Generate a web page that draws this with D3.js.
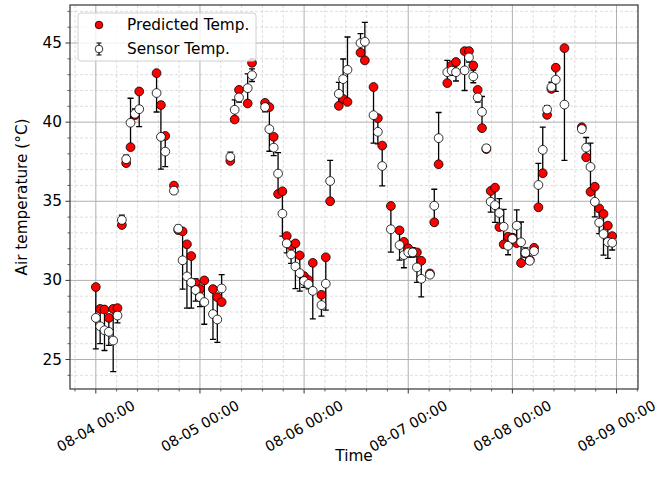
<!DOCTYPE html>
<html>
<head>
<meta charset="utf-8">
<script src="https://cdn.jsdelivr.net/npm/d3@7"></script>
<style>
  body { margin: 0; background: #fff; }
  text { font-family: "DejaVu Sans", sans-serif; }
</style>
</head>
<body>
<div id="chart"></div>
<script>
// hours after 08-04 00:00
var hours = [0,1,2,3,4,5,6,7,8,9,10,14,15,16,18,19,20,21,22,23,24,25,27,28,29,
    31,32,33,35,36,39,40,41,42,43,44,45,46,47,48,49,50,52,53,54,56,57,58,61,62,
    64,65,66,68,70,71,72,73,74,75,77,78,79,81,82,83,85,86,87,88,89,90,91,92,93,
    94,95,96,97,98,99,100,101,102,103,104,105,106,108,112,113,114,115,116,117,118,119];

var predicted = [29.58,28.2,28.16,27.63,28.2,28.25,33.5,37.41,38.42,40.45,41.94,43.1,41.08,39.13,35.99,33.18,33.1,32.28,31.54,29.83,29.45,30.0,29.45,28.94,28.63,
    37.55,40.17,42.04,41.18,43.75,41.22,40.95,39.07,35.46,35.63,32.8,32.19,32.34,31.58,30.27,30.02,31.11,29.09,31.46,35.0,41.03,41.47,41.28,44.39,43.9,
    42.22,40.25,38.52,34.7,33.16,32.44,32.03,31.75,31.77,31.24,30.44,33.67,37.34,42.47,43.58,43.8,44.49,44.49,43.58,42.04,39.62,38.3,35.65,35.86,33.37,
    32.28,32.76,32.7,32.36,31.1,31.7,31.29,32.06,34.62,36.77,40.46,42.1,43.44,44.68,39.68,37.78,35.6,35.92,34.55,34.2,33.46,32.8];

var sensor = [27.63,27.1,26.85,26.75,26.2,27.78,33.82,37.66,39.96,40.53,40.82,41.84,39.07,38.14,35.67,33.27,31.27,30.25,29.87,29.39,28.94,28.63,27.87,27.53,29.49,
    37.8,40.78,41.56,42.15,42.97,40.95,39.56,38.39,36.75,34.22,32.34,31.64,30.88,30.46,29.96,29.77,29.34,28.44,29.79,36.28,41.79,42.72,43.31,45.0,45.08,
    40.44,39.39,37.23,33.23,32.23,31.6,31.77,31.77,30.82,30.1,30.36,34.72,38.99,43.16,43.25,43.16,43.27,44.09,42.89,41.56,40.65,38.35,34.97,34.75,34.26,
    33.39,32.19,32.63,33.46,32.41,31.75,31.24,31.85,36.03,38.25,40.8,42.22,42.68,41.11,39.56,38.39,37.17,34.97,33.65,32.93,32.42,32.38];

var sensorErr = [1.96,1.1,1.28,0.86,1.96,0.47,0.3,0.25,1.55,0.3,1.1,1.2,2.04,0.95,0.2,0.2,1.82,2.0,1.62,0.7,0.6,1.4,1.6,1.45,0.87,
    0.3,0.63,0.3,0.9,0.4,0.3,1.4,0.5,1.32,1.42,0.6,0.57,1.4,1.14,0.4,0.3,1.77,0.7,1.67,1.3,0.72,1.27,2.07,0.6,1.22,
    1.77,0.76,1.26,1.44,0.95,0.8,0.3,0.3,0.95,1.14,0.1,1.04,1.62,0.74,0.3,0.56,1.27,0.3,0.4,0.3,0.97,0.2,0.65,1.08,0.91,
    1.1,0.57,0.3,1.0,1.28,0.3,0.2,0.2,1.37,1.43,0.25,0.3,0.74,3.52,0.2,0.64,1.5,0.95,0.7,1.33,1.03,0.46];

var yTicks = [25, 30, 35, 40, 45];
var legendLabels = ["Predicted Temp.", "Sensor Temp."];

function init() {
    var W = 659, H = 496;
    var margin = {top: 5, right: 21, bottom: 107, left: 70};
    var w = W - margin.left - margin.right;
    var h = H - margin.top - margin.bottom;
    var fs = "15.3px";      // labels, legend, y ticks
    var fsX = "14.3px";     // rotated date ticks

    var start = new Date(2020, 7, 4, 0, 0);
    var data = hours.map(function(hr, i) {
        return {t: d3.timeHour.offset(start, hr), p: predicted[i], s: sensor[i], e: sensorErr[i]};
    });

    // 5% padding like matplotlib
    var hMin = d3.min(hours), hMax = d3.max(hours);
    var padH = (hMax - hMin) * 0.05;
    var x = d3.scaleTime()
        .domain([new Date(+start + (hMin - padH) * 3600e3), new Date(+start + (hMax + padH) * 3600e3)])
        .range([0, w]);

    var lo = d3.min(data, function(d){ return Math.min(d.p, d.s - d.e); });
    var hi = d3.max(data, function(d){ return Math.max(d.p, d.s + d.e); });
    var padY = (hi - lo) * 0.05;
    var y = d3.scaleLinear().domain([lo - padY, hi + padY]).range([h, 0]);

    var svg = d3.select("#chart").append("svg")
        .attr("width", W).attr("height", H);
    var g = svg.append("g").attr("transform", "translate(" + margin.left + "," + margin.top + ")");

    var days = d3.timeDay.range(start, d3.timeDay.offset(start, 6));
    var minorX = [];
    d3.timeDay.range(d3.timeDay.offset(start, -1), d3.timeDay.offset(start, 6)).forEach(function(d) {
        for (var k = 1; k < 5; k++) minorX.push(new Date(+d + k * 24 * 3600e3 / 5));
    });
    minorX = minorX.filter(function(d){ return d >= x.domain()[0] && d <= x.domain()[1]; });
    var minorY = d3.range(24, 48).filter(function(v){ return v % 5 != 0 && v >= y.domain()[0] && v <= y.domain()[1]; });

    // grid
    var grid = g.append("g");
    grid.selectAll(".mx").data(minorX).enter().append("line")
        .attr("x1", function(d){ return x(d); }).attr("x2", function(d){ return x(d); })
        .attr("y1", 0).attr("y2", h)
        .style("stroke", "#d6d6d6").style("stroke-dasharray", "3,2").style("stroke-width", 0.8);
    grid.selectAll(".my").data(minorY).enter().append("line")
        .attr("y1", function(d){ return y(d); }).attr("y2", function(d){ return y(d); })
        .attr("x1", 0).attr("x2", w)
        .style("stroke", "#d6d6d6").style("stroke-dasharray", "3,2").style("stroke-width", 0.8);
    grid.selectAll(".Mx").data(days).enter().append("line")
        .attr("x1", function(d){ return x(d); }).attr("x2", function(d){ return x(d); })
        .attr("y1", 0).attr("y2", h)
        .style("stroke", "#b0b0b0").style("stroke-width", 1);
    grid.selectAll(".My").data(yTicks).enter().append("line")
        .attr("y1", function(d){ return y(d); }).attr("y2", function(d){ return y(d); })
        .attr("x1", 0).attr("x2", w)
        .style("stroke", "#b0b0b0").style("stroke-width", 1);

    // error bars
    var bars = g.append("g");
    bars.selectAll(".eb").data(data).enter().append("path")
        .attr("d", function(d) {
            var cx = x(d.t), t = y(d.s + d.e), b = y(d.s - d.e);
            return "M" + cx + "," + t + "V" + b +
                   "M" + (cx - 3) + "," + t + "H" + (cx + 3) +
                   "M" + (cx - 3) + "," + b + "H" + (cx + 3);
        })
        .style("stroke", "#000").style("stroke-width", 1.3).style("fill", "none");

    // predicted
    g.append("g").selectAll("circle").data(data).enter().append("circle")
        .attr("cx", function(d){ return x(d.t); })
        .attr("cy", function(d){ return y(d.p); })
        .attr("r", 4.4)
        .style("fill", "#ff0000").style("stroke", "#000").style("stroke-width", 0.8);

    // sensor
    g.append("g").selectAll("circle").data(data).enter().append("circle")
        .attr("cx", function(d){ return x(d.t); })
        .attr("cy", function(d){ return y(d.s); })
        .attr("r", 4.4)
        .style("fill", "#fff").style("stroke", "#000").style("stroke-width", 0.8);

    // axes
    var fmt = d3.timeFormat("%m-%d %H:%M");
    var xAxis = g.append("g").attr("transform", "translate(0," + h + ")");
    xAxis.selectAll(".mt").data(minorX).enter().append("line")
        .attr("x1", function(d){ return x(d); }).attr("x2", function(d){ return x(d); })
        .attr("y1", 0).attr("y2", 2.5).style("stroke", "#333").style("stroke-width", 0.8);
    xAxis.selectAll(".Mt").data(days).enter().append("line")
        .attr("x1", function(d){ return x(d); }).attr("x2", function(d){ return x(d); })
        .attr("y1", 0).attr("y2", 4.5).style("stroke", "#333").style("stroke-width", 1);
    xAxis.selectAll("text").data(days).enter().append("text")
        .attr("transform", function(d){ return "translate(" + x(d) + ",37) rotate(-30)"; })
        .attr("text-anchor", "middle").attr("dominant-baseline", "central")
        .style("font-size", fsX).style("fill", "#000")
        .text(function(d){ return fmt(d); });

    var yAxis = g.append("g");
    yAxis.selectAll(".mt").data(minorY).enter().append("line")
        .attr("y1", function(d){ return y(d); }).attr("y2", function(d){ return y(d); })
        .attr("x1", 0).attr("x2", -2.5).style("stroke", "#333").style("stroke-width", 0.8);
    yAxis.selectAll(".Mt").data(yTicks).enter().append("line")
        .attr("y1", function(d){ return y(d); }).attr("y2", function(d){ return y(d); })
        .attr("x1", 0).attr("x2", -4.5).style("stroke", "#333").style("stroke-width", 1);
    yAxis.selectAll("text").data(yTicks).enter().append("text")
        .attr("x", -8).attr("y", function(d){ return y(d); })
        .attr("text-anchor", "end").attr("dominant-baseline", "central")
        .style("font-size", fs).style("fill", "#000")
        .text(function(d){ return d; });

    // frame
    g.append("rect").attr("width", w).attr("height", h)
        .style("fill", "none").style("stroke", "#444").style("stroke-width", 1.3);

    // labels
    svg.append("text").attr("x", margin.left + w / 2).attr("y", 461)
        .attr("text-anchor", "middle").style("font-size", fs).text("Time");
    svg.append("text")
        .attr("transform", "translate(22," + (margin.top + h / 2) + ") rotate(-90)")
        .attr("text-anchor", "middle").attr("dominant-baseline", "central")
        .style("font-size", fs).text("Air temperature (°C)");

    // legend
    var lg = svg.append("g").attr("transform", "translate(78,13)");
    lg.append("rect").attr("width", 178).attr("height", 48).attr("rx", 3)
        .style("fill", "#fff").style("fill-opacity", 0.8)
        .style("stroke", "#d0d0d0").style("stroke-width", 1);
    lg.append("circle").attr("cx", 21).attr("cy", 12).attr("r", 3.8)
        .style("fill", "#ff0000").style("stroke", "#000").style("stroke-width", 0.8);
    lg.append("path").attr("d", "M21,30V42M18.5,30H23.5M18.5,42H23.5")
        .style("stroke", "#000").style("stroke-width", 1.2).style("fill", "none");
    lg.append("circle").attr("cx", 21).attr("cy", 36).attr("r", 3.8)
        .style("fill", "#fff").style("stroke", "#000").style("stroke-width", 0.8);
    lg.selectAll(".lt").data(legendLabels).enter().append("text")
        .attr("x", 49).attr("y", function(d, i){ return 12 + i * 24; })
        .attr("dominant-baseline", "central")
        .style("font-size", fs).text(function(d){ return d; });
}

window.onload = init;
</script>
</body>
</html>
